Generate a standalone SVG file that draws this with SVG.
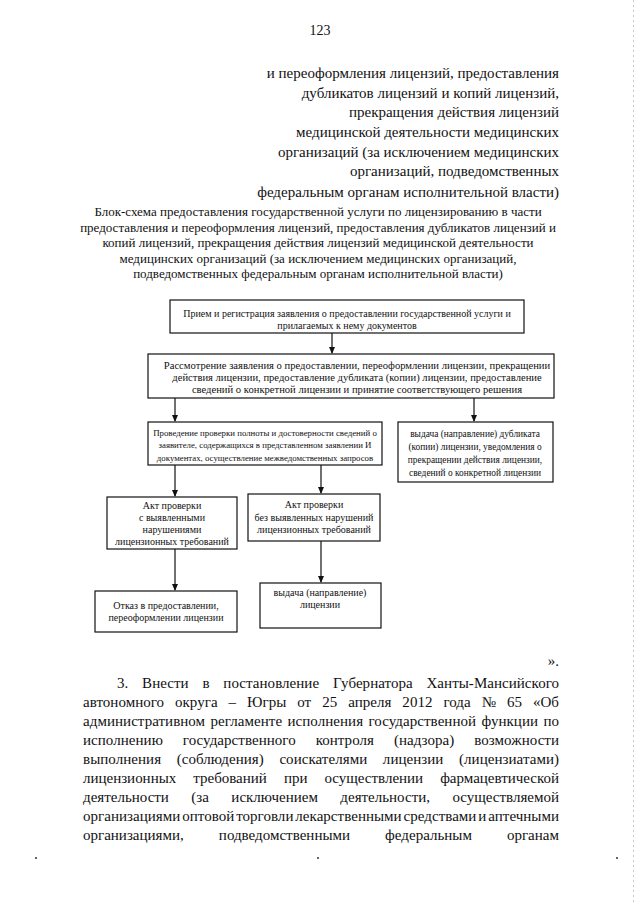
<svg xmlns="http://www.w3.org/2000/svg" width="640" height="905" viewBox="0 0 640 905" font-family="'Liberation Serif', 'Times New Roman', 'DejaVu Serif', serif">
<style>
text{font-family:'Liberation Serif','Times New Roman','DejaVu Serif',serif;fill:#111}
.pg{font-size:14px}
.hd{font-size:15px;text-anchor:end}
.cap{font-size:13px;text-anchor:middle}
.bd{font-size:15px}
.bx{fill:#fff;stroke:#111;stroke-width:1.2}
.bt{font-size:10px;text-anchor:middle}
.b2{font-size:10.6px}
.b3{font-size:8.8px}
.b4{font-size:9.4px}
.cn{stroke:#111;stroke-width:1.2;fill:none}
</style>
<defs>
<marker id="ah" markerUnits="userSpaceOnUse" markerWidth="7" markerHeight="8" refX="6" refY="3.5" orient="auto">
<path d="M0,0.5 L7,3.5 L0,6.5 z" fill="#111"/>
</marker>
</defs>
<rect width="640" height="905" fill="#fff"/>
<line x1="633.5" y1="0" x2="633.5" y2="905" stroke="#bbb" stroke-width="0.8" stroke-dasharray="2 3"/>

<text class="pg" x="320" y="35" text-anchor="middle">123</text>

<g id="header">
<text class="hd" x="559" y="78">и переоформления лицензий, предоставления</text>
<text class="hd" x="559" y="97.7">дубликатов лицензий и копий лицензий,</text>
<text class="hd" x="559" y="117.3">прекращения действия лицензий</text>
<text class="hd" x="559" y="137">медицинской деятельности медицинских</text>
<text class="hd" x="559" y="156.7">организаций (за исключением медицинских</text>
<text class="hd" x="559" y="176.3">организаций, подведомственных</text>
<text class="hd" x="559" y="196.5">федеральным органам исполнительной власти)</text>
</g>

<g id="caption">
<text class="cap" x="318" y="216">Блок-схема предоставления государственной услуги по лицензированию в части</text>
<text class="cap" x="318" y="231.5">предоставления и переоформления лицензий, предоставления дубликатов лицензий и</text>
<text class="cap" x="318" y="247">копий лицензий, прекращения действия лицензий медицинской деятельности</text>
<text class="cap" x="318" y="262.5">медицинских организаций (за исключением медицинских организаций,</text>
<text class="cap" x="318" y="278">подведомственных федеральным органам исполнительной власти)</text>
</g>

<g id="connectors">
<line class="cn" x1="332" y1="333" x2="332" y2="353" marker-end="url(#ah)"/>
<line class="cn" x1="175" y1="398" x2="175" y2="421" marker-end="url(#ah)"/>
<line class="cn" x1="474" y1="398" x2="474" y2="421" marker-end="url(#ah)"/>
<line class="cn" x1="175" y1="465" x2="175" y2="496" marker-end="url(#ah)"/>
<line class="cn" x1="321" y1="465" x2="321" y2="493" marker-end="url(#ah)"/>
<line class="cn" x1="175" y1="549" x2="175" y2="590" marker-end="url(#ah)"/>
<line class="cn" x1="321" y1="541" x2="321" y2="582" marker-end="url(#ah)"/>
</g>

<g id="n1">
<rect class="bx" x="170" y="300" width="354" height="33"/>
<text class="bt" x="347" y="316.5">Прием и регистрация заявления о предоставлении государственной услуги и</text>
<text class="bt" x="347" y="328.5">прилагаемых к нему документов</text>
</g>
<g id="n2">
<rect class="bx" x="148" y="354" width="406" height="44"/>
<text class="bt b2" x="357" y="368.5">Рассмотрение заявления о предоставлении, переоформлении лицензии, прекращении</text>
<text class="bt b2" x="357" y="380.5">действия лицензии, предоставление дубликата (копии) лицензии, предоставление</text>
<text class="bt b2" x="357" y="392.5">сведений о конкретной лицензии и принятие соответствующего решения</text>
</g>
<g id="n3">
<rect class="bx" x="148" y="422" width="234" height="43"/>
<text class="bt b3" x="265" y="435.5">Проведение проверки полноты и достоверности сведений о</text>
<text class="bt b3" x="265" y="448">заявителе, содержащихся в представленном заявлении И</text>
<text class="bt b3" x="265" y="460.5">документах, осуществление межведомственных запросов</text>
</g>
<g id="n4">
<rect class="bx" x="398" y="422" width="155" height="60"/>
<text class="bt b4" x="475" y="436.5">выдача (направление) дубликата</text>
<text class="bt b4" x="475" y="449.5">(копии) лицензии, уведомления  о</text>
<text class="bt b4" x="475" y="462.5">прекращении действия лицензии,</text>
<text class="bt b4" x="475" y="475.5">сведений о конкретной лицензии</text>
</g>
<g id="n5">
<rect class="bx" x="107" y="497" width="130" height="52"/>
<text class="bt" x="172" y="508.5">Акт проверки</text>
<text class="bt" x="172" y="520.5">с выявленными</text>
<text class="bt" x="172" y="532.5">нарушениями</text>
<text class="bt" x="172" y="544.5">лицензионных требований</text>
</g>
<g id="n6">
<rect class="bx" x="248" y="494" width="132" height="47"/>
<text class="bt" x="314" y="507.5">Акт проверки</text>
<text class="bt" x="314" y="520.5">без выявленных нарушений</text>
<text class="bt" x="314" y="532.5">лицензионных требований</text>
</g>
<g id="n7">
<rect class="bx" x="95" y="591" width="142" height="41"/>
<text class="bt" x="166" y="608.5">Отказ в предоставлении,</text>
<text class="bt" x="166" y="620.5">переоформлении лицензии</text>
</g>
<g id="n8">
<rect class="bx" x="260" y="583" width="121" height="45"/>
<text class="bt" x="320" y="595.5">выдача (направление)</text>
<text class="bt" x="320" y="607.5">лицензии</text>
</g>

<g id="body">
<text class="bd" x="559" y="666" text-anchor="end">».</text>
<text class="bd" x="117" y="688" word-spacing="10" textLength="442" lengthAdjust="spacing">3. Внести в постановление Губернатора Ханты-Мансийского</text>
<text class="bd" x="83" y="707" word-spacing="7.2" textLength="476" lengthAdjust="spacing">автономного округа – Югры от 25 апреля 2012 года № 65 «Об</text>
<text class="bd" x="83" y="726" word-spacing="1.6" textLength="476" lengthAdjust="spacing">административном регламенте исполнения государственной функции по</text>
<text class="bd" x="83" y="745" word-spacing="16.1" textLength="476" lengthAdjust="spacing">исполнению государственного контроля (надзора) возможности</text>
<text class="bd" x="83" y="764" word-spacing="11.8" textLength="476" lengthAdjust="spacing">выполнения (соблюдения) соискателями лицензии (лицензиатами)</text>
<text class="bd" x="83" y="783" word-spacing="13.3" textLength="476" lengthAdjust="spacing">лицензионных требований при осуществлении фармацевтической</text>
<text class="bd" x="83" y="802" word-spacing="18.7" textLength="476" lengthAdjust="spacing">деятельности (за исключением деятельности, осуществляемой</text>
<text class="bd" x="83" y="821" word-spacing="-1.9" textLength="476" lengthAdjust="spacing">организациями оптовой торговли лекарственными средствами и аптечными</text>
<text class="bd" x="83" y="840" word-spacing="31.3" textLength="476" lengthAdjust="spacing">организациями, подведомственными федеральным органам</text>
</g>
<g id="dots" fill="#333">
<circle cx="36" cy="858" r="1"/>
<circle cx="318" cy="858" r="1"/>
<circle cx="617" cy="858" r="1"/>
</g>
</svg>
